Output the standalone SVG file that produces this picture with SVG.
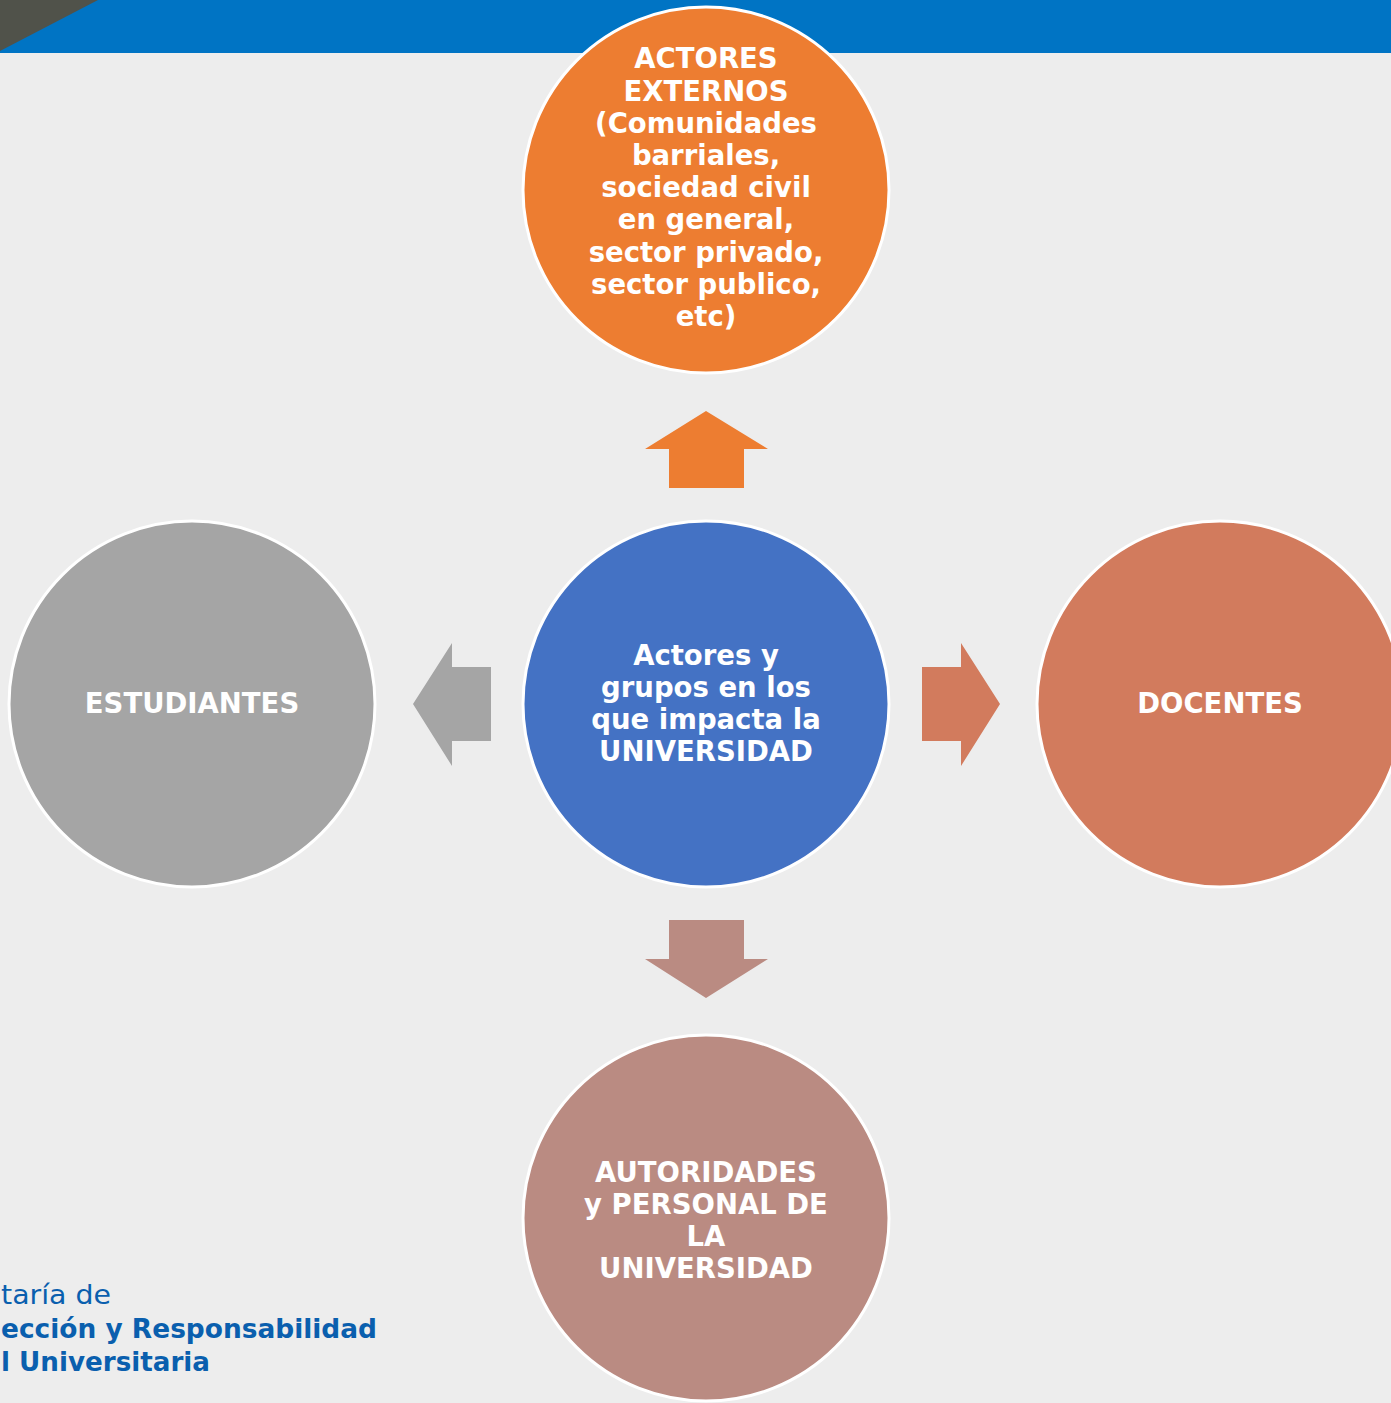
<svg xmlns="http://www.w3.org/2000/svg" width="1391" height="1403" viewBox="0 0 1391 1403">
<style>
.c{stroke:#fff;stroke-width:3}
.t{font-family:"DejaVu Sans","Noto Sans",sans-serif;font-weight:700;font-size:27.5px;fill:#fff;text-anchor:middle}
.b{font-family:"DejaVu Sans","Noto Sans",sans-serif;fill:#0A5FAE;font-size:27px}
</style>
<rect width="1391" height="1403" fill="#EDEDED"/>
<rect width="1391" height="53" fill="#0074C4"/>
<polygon points="0,0 98,0 0,51" fill="#50524A"/>
<g id="connectors">
<polygon points="706,411 768,449 744,449 744,488 669,488 669,449 645,449" fill="#ED7D31"/>
<polygon points="413,704 452,643 452,667 491,667 491,741 452,741 452,766" fill="#A5A5A5"/>
<polygon points="1000,704 961,643 961,667 922,667 922,741 961,741 961,766" fill="#D27B5D"/>
<polygon points="706,998 768,959 744,959 744,920 669,920 669,959 645,959" fill="#BA8B82"/>
</g>
<g id="externos">
<circle class="c" cx="706" cy="190" r="183" fill="#ED7D31"/>
<text class="t"><tspan x="706" y="68">ACTORES</tspan><tspan x="706" y="100.5">EXTERNOS</tspan><tspan x="706" y="133">(Comunidades</tspan><tspan x="706" y="165">barriales,</tspan><tspan x="706" y="197">sociedad civil</tspan><tspan x="706" y="229">en general,</tspan><tspan x="706" y="262">sector privado,</tspan><tspan x="706" y="294">sector publico,</tspan><tspan x="706" y="326">etc)</tspan></text>
</g>
<g id="centro">
<circle class="c" cx="706" cy="704" r="183" fill="#4472C4"/>
<text class="t"><tspan x="706" y="665">Actores y</tspan><tspan x="706" y="697">grupos en los</tspan><tspan x="706" y="729">que impacta la</tspan><tspan x="706" y="761">UNIVERSIDAD</tspan></text>
</g>
<g id="estudiantes">
<circle class="c" cx="192" cy="704" r="183" fill="#A5A5A5"/>
<text class="t" x="192" y="713">ESTUDIANTES</text>
</g>
<g id="docentes">
<circle class="c" cx="1220" cy="704" r="183" fill="#D27B5D"/>
<text class="t" x="1220" y="713">DOCENTES</text>
</g>
<g id="autoridades">
<circle class="c" cx="706" cy="1218" r="183" fill="#BA8B82"/>
<text class="t"><tspan x="706" y="1181.5">AUTORIDADES</tspan><tspan x="706" y="1213.5">y PERSONAL DE</tspan><tspan x="706" y="1245.5">LA</tspan><tspan x="706" y="1277.5">UNIVERSIDAD</tspan></text>
</g>
<g id="logo">
<text class="b" x="1" y="1304" font-weight="400" fill="#1D6DBE" textLength="110" lengthAdjust="spacingAndGlyphs">taría de</text>
<text class="b" x="1" y="1338" font-weight="700" textLength="376" lengthAdjust="spacingAndGlyphs">ección y Responsabilidad</text>
<text class="b" x="1" y="1371" font-weight="700" textLength="209" lengthAdjust="spacingAndGlyphs">l Universitaria</text>
</g>
</svg>
